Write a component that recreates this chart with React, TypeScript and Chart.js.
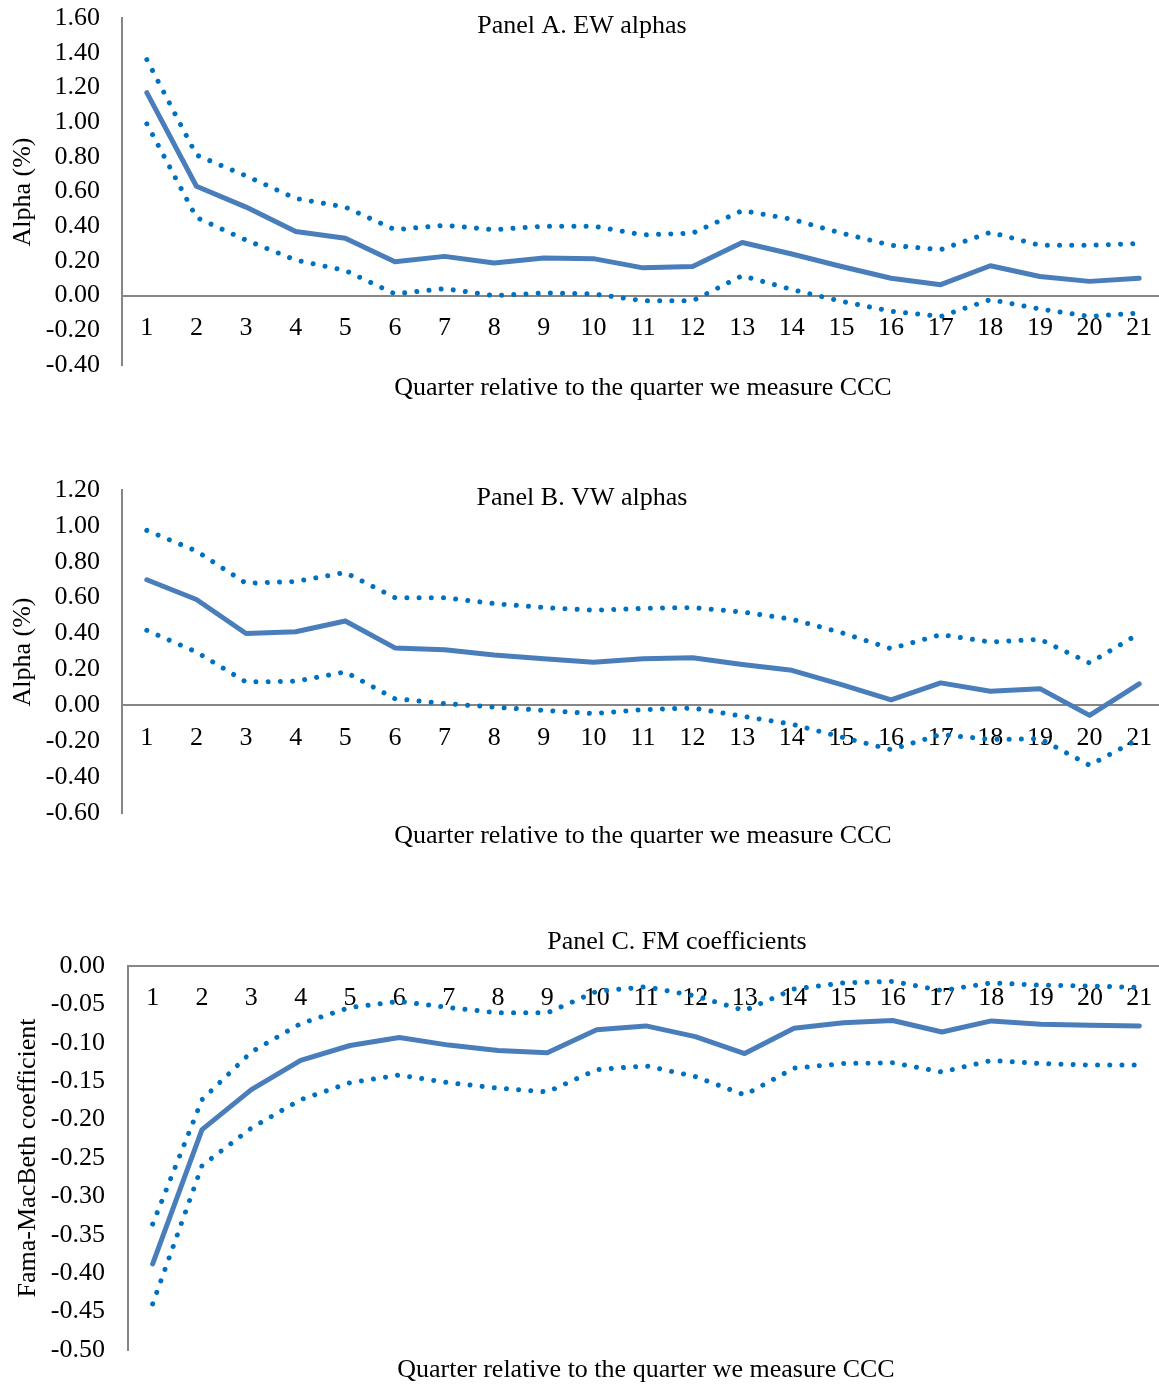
import React, { useEffect, useRef } from 'react';
import { Chart, registerables } from 'chart.js';

Chart.register(...registerables);

const FONT = "'Liberation Serif', 'Times New Roman', serif";
const SOLID = '#4A7EBB';
const DOTTED = '#0070C0';
const AXIS = '#868686';

const quarters = ['1', '2', '3', '4', '5', '6', '7', '8', '9', '10', '11', '12', '13', '14', '15', '16', '17', '18', '19', '20', '21'];

// Panel A. EW alphas
const ewAlpha = [1.17, 0.63, 0.51, 0.37, 0.33, 0.195, 0.226, 0.188, 0.217, 0.213, 0.16, 0.168, 0.306, 0.24, 0.168, 0.10, 0.063, 0.172, 0.11, 0.082, 0.10];
const ewUpper = [1.36, 0.81, 0.69, 0.56, 0.51, 0.38, 0.405, 0.38, 0.40, 0.40, 0.35, 0.36, 0.49, 0.44, 0.36, 0.29, 0.265, 0.365, 0.29, 0.29, 0.30];
const ewLower = [0.99, 0.45, 0.32, 0.205, 0.145, 0.01, 0.04, 0.0, 0.015, 0.01, -0.03, -0.03, 0.115, 0.035, -0.033, -0.09, -0.12, -0.023, -0.077, -0.12, -0.10];

// Panel B. VW alphas
const vwAlpha = [0.70, 0.59, 0.40, 0.41, 0.47, 0.32, 0.31, 0.28, 0.26, 0.24, 0.26, 0.265, 0.227, 0.195, 0.115, 0.03, 0.125, 0.078, 0.093, -0.056, 0.12];
const vwUpper = [0.975, 0.86, 0.68, 0.69, 0.74, 0.60, 0.60, 0.567, 0.545, 0.53, 0.54, 0.545, 0.52, 0.48, 0.405, 0.316, 0.394, 0.353, 0.368, 0.236, 0.40];
const vwLower = [0.418, 0.297, 0.13, 0.134, 0.186, 0.037, 0.01, -0.01, -0.028, -0.046, -0.024, -0.015, -0.061, -0.105, -0.177, -0.247, -0.162, -0.19, -0.186, -0.334, -0.186];

// Panel C. FM coefficients
const fmCoef = [-0.388, -0.213, -0.161, -0.123, -0.1035, -0.093, -0.103, -0.110, -0.113, -0.083, -0.078, -0.092, -0.114, -0.081, -0.074, -0.071, -0.086, -0.0715, -0.076, -0.077, -0.078];
const fmUpper = [-0.336, -0.174, -0.112, -0.075, -0.054, -0.046, -0.054, -0.061, -0.061, -0.033, -0.027, -0.039, -0.058, -0.030, -0.022, -0.020, -0.032, -0.022, -0.025, -0.026, -0.028];
const fmLower = [-0.44, -0.26, -0.211, -0.174, -0.152, -0.142, -0.152, -0.159, -0.164, -0.135, -0.13, -0.144, -0.168, -0.133, -0.127, -0.126, -0.138, -0.123, -0.127, -0.129, -0.129];

// Axis ranges
const ewRange = { min: -0.4, max: 1.6, step: 0.2 };
const vwRange = { min: -0.6, max: 1.2, step: 0.2 };
const fmRange = { min: -0.5, max: 0, step: 0.05 };

const xTitle = 'Quarter relative to the quarter we measure CCC';

const textPlugin = {
  id: 'panelText',
  afterDraw(chart: any, _args: any, opts: any) {
    const ctx = chart.ctx;
    ctx.save();
    ctx.fillStyle = '#000';
    ctx.font = `26px ${FONT}`;
    ctx.textAlign = 'center';
    ctx.textBaseline = 'middle';
    ctx.fillText(opts.title, opts.titleX, opts.titleY);
    ctx.fillText(opts.xTitle, opts.xTitleX, opts.xTitleY);
    ctx.translate(opts.yTitleX, opts.yTitleY);
    ctx.rotate(-Math.PI / 2);
    ctx.fillText(opts.yTitle, 0, 0);
    ctx.restore();
  },
};

type PanelProps = {
  top: number;
  height: number;
  axisWidth: number;
  padTop: number;
  padBottom: number;
  mid: number[];
  upper: number[];
  lower: number[];
  range: { min: number; max: number; step: number };
  text: any;
};

function Panel(p: PanelProps) {
  const ref = useRef<HTMLCanvasElement>(null);
  useEffect(() => {
    if (!ref.current) return;
    const dotted = (data: number[]) => ({
      data,
      borderColor: DOTTED,
      borderWidth: 5,
      borderDash: [0.001, 12.2],
      borderCapStyle: 'round' as const,
      pointRadius: 0,
      tension: 0,
      fill: false,
    });
    const chart = new Chart(ref.current, {
      type: 'line',
      data: {
        labels: quarters,
        datasets: [
          dotted(p.upper),
          dotted(p.lower),
          {
            data: p.mid,
            borderColor: SOLID,
            borderWidth: 5,
            borderCapStyle: 'round',
            borderJoinStyle: 'round',
            pointRadius: 0,
            tension: 0,
            fill: false,
          },
        ],
      },
      options: {
        animation: false,
        responsive: false,
        devicePixelRatio: 1,
        layout: { padding: { top: p.padTop, bottom: p.padBottom, left: 0, right: 6 } },
        plugins: {
          legend: { display: false },
          tooltip: { enabled: false },
          panelText: p.text,
        } as any,
        scales: {
          x: {
            type: 'category',
            position: { y: 0 } as any,
            offset: true,
            grid: { display: false, drawTicks: false },
            border: { display: true, color: AXIS, width: 2 },
            ticks: {
              color: '#000',
              font: { family: FONT, size: 26 },
              padding: 17,
              maxRotation: 0,
              autoSkip: false,
            },
          },
          y: {
            type: 'linear',
            position: 'left',
            min: p.range.min,
            max: p.range.max,
            grid: { display: false, drawTicks: false },
            border: { display: true, color: AXIS, width: 2 },
            ticks: {
              stepSize: p.range.step,
              color: '#000',
              font: { family: FONT, size: 26 },
              padding: p.axisWidth === 128 ? 23 : 22,
              callback: (v: any) => Number(v).toFixed(2),
            },
            afterFit: (s: any) => {
              s.width = p.axisWidth;
              s.paddingTop = 0;
              s.paddingBottom = 0;
            },
          },
        },
      },
      plugins: [textPlugin],
    });
    return () => chart.destroy();
  }, []);
  return (
    <div style={{ position: 'absolute', left: 0, top: p.top, width: 1170, height: p.height }}>
      <canvas ref={ref} width={1170} height={p.height} style={{ display: 'block' }} />
    </div>
  );
}

export default function App() {
  return (
    <div style={{ position: 'absolute', left: 0, top: 0, width: 1159, height: 1385, overflow: 'hidden', background: '#fff' }}>
      <Panel
        top={0}
        height={410}
        axisWidth={122}
        padTop={18}
        padBottom={45}
        mid={ewAlpha}
        upper={ewUpper}
        lower={ewLower}
        range={ewRange}
        text={{ title: 'Panel A. EW alphas', titleX: 582, titleY: 26, xTitle, xTitleX: 643, xTitleY: 388, yTitle: 'Alpha (%)', yTitleX: 23, yTitleY: 192 }}
      />
      <Panel
        top={450}
        height={420}
        axisWidth={122}
        padTop={40}
        padBottom={57}
        mid={vwAlpha}
        upper={vwUpper}
        lower={vwLower}
        range={vwRange}
        text={{ title: 'Panel B. VW alphas', titleX: 582, titleY: 48, xTitle, xTitleX: 643, xTitleY: 386, yTitle: 'Alpha (%)', yTitleX: 23, yTitleY: 202 }}
      />
      <Panel
        top={900}
        height={485}
        axisWidth={128}
        padTop={66}
        padBottom={35}
        mid={fmCoef}
        upper={fmUpper}
        lower={fmLower}
        range={fmRange}
        text={{ title: 'Panel C. FM coefficients', titleX: 677, titleY: 42, xTitle, xTitleX: 646, xTitleY: 470, yTitle: 'Fama-MacBeth coefficient', yTitleX: 28, yTitleY: 258 }}
      />
    </div>
  );
}
